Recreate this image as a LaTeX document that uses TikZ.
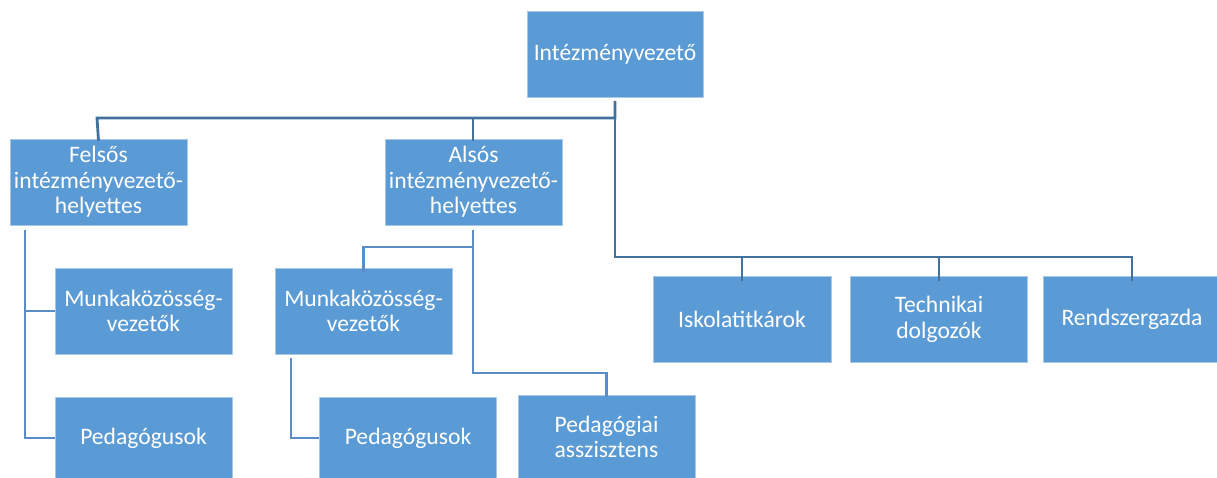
\documentclass[tikz,border=0pt]{standalone}
\usepackage{fontspec}
\setmainfont{Carlito}
\definecolor{boxfill}{HTML}{5B9BD5}
\definecolor{boxedge}{HTML}{A9C8E8}
\definecolor{trunkc}{HTML}{41719C}
\definecolor{subc}{HTML}{5A8CC6}
\begin{document}
\begin{tikzpicture}[x=1pt,y=-1pt,
  box/.style={draw=boxedge,line width=0.8pt,fill=boxfill,text=white,align=center,
    inner sep=2pt,font=\fontsize{23.6}{25.5}\selectfont},
  trunk/.style={draw=trunkc,line width=2.8pt},
  sub/.style={draw=subc,line width=2.4pt}]
\useasboundingbox (0,0) rectangle (1217,478);
\begin{scope}
\clip (0,0) rectangle (1217,478);
\node[box,minimum width=176pt,minimum height=86pt] (top) at (615,54) {Intézményvezető};
\node[box,minimum width=177pt,minimum height=86pt] (fels) at (98.5,182) {Felsős\\intézményvezető-\\helyettes};
\node[box,minimum width=177pt,minimum height=86pt] (als) at (473.5,182) {Alsós\\intézményvezető-\\helyettes};
\node[box,minimum width=177pt,minimum height=86pt] (mk1) at (143.5,311) {Munkaközösség-\\vezetők};
\node[box,minimum width=177pt,minimum height=82pt] (ped1) at (143.5,438) {Pedagógusok};
\node[box,minimum width=177pt,minimum height=86pt] (mk2) at (363.5,311) {Munkaközösség-\\vezetők};
\node[box,minimum width=177pt,minimum height=82pt] (ped2) at (408,438) {Pedagógusok};
\node[box,minimum width=177pt,minimum height=84pt] (pa) at (606.5,437) {Pedagógiai\\asszisztens};
\node[box,minimum width=178pt,minimum height=86pt] (isk) at (742,319.5) {Iskolatitkárok};
\node[box,minimum width=177pt,minimum height=86pt] (tech) at (939,319.5) {Technikai\\dolgozók};
\node[box,minimum width=178pt,minimum height=86pt] (rend) at (1132,319.5) {Rendszergazda};
\end{scope}
\coordinate (j0) at (615,101);
\coordinate (j1) at (615,118);
\coordinate (j2) at (615,257);
\coordinate (fa) at (97,118);
\coordinate (aa) at (473,118);
\coordinate (f0) at (25,230);
\coordinate (a0) at (473,230);
\coordinate (a1) at (473,247);
\coordinate (a2) at (473,373);
\coordinate (m0) at (291,358);
\draw[trunk] (j0) -- (j1) -- (fa) -- ([yshift=-2pt]fels.north);
\draw[trunk] (aa) -- ([yshift=-2pt]aa |- als.north);
\draw[trunk] (j1) -- (j2) -| ([yshift=-5pt]isk.north);
\draw[trunk] (j2) -| ([yshift=-5pt]tech.north);
\draw[trunk] (j2) -| ([yshift=-5pt]rend.north);
\draw[sub] (a0) -- (a2) -| ([yshift=-2pt]pa.north);
\draw[sub] (a1) -| ([yshift=-4pt]mk2.north);
\draw[sub] (f0) |- (mk1.west);
\draw[sub] (f0) |- (ped1.west);
\draw[sub] (m0) |- (ped2.west);
\end{tikzpicture}
\end{document}
